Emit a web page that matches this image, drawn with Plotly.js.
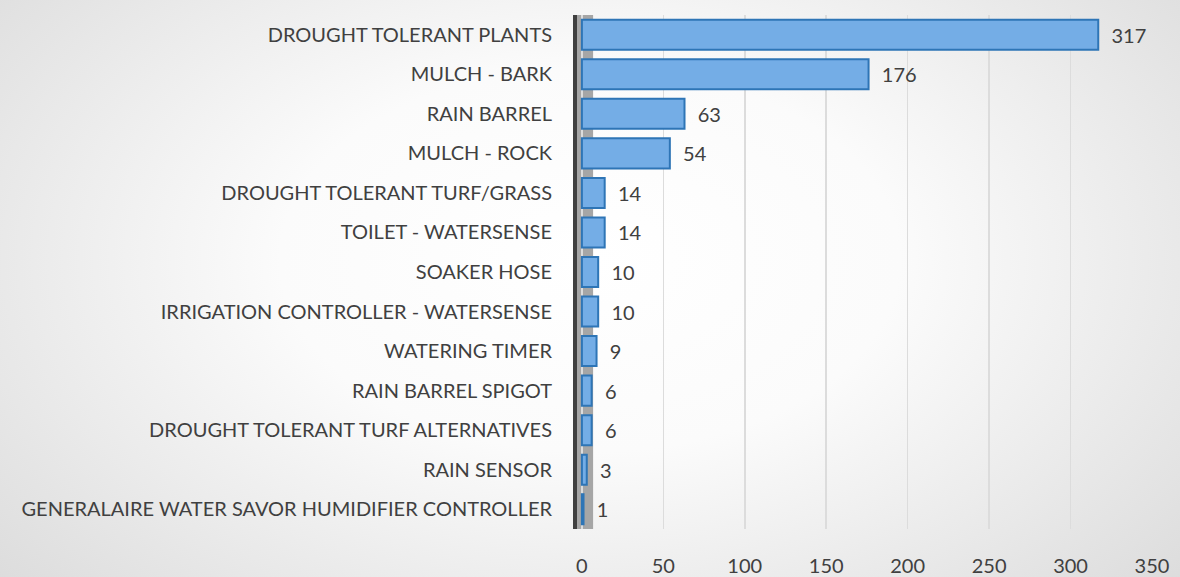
<!DOCTYPE html>
<html>
<head>
<meta charset="utf-8">
<script src="https://cdn.plot.ly/plotly-3.0.1.min.js"></script>
<style>
  html, body { margin: 0; padding: 0; }
  body {
    width: 1180px; height: 577px; overflow: hidden;
    background: radial-gradient(ellipse 75% 95% at 50% 45%, #ffffff 0%, #fbfbfb 35%, #e4e4e4 75%, #d6d6d6 100%);
  }
  #chart { width: 1180px; height: 577px; }
</style>
</head>
<body>
<div id="chart"></div>
<script>
const categories = [
  "DROUGHT TOLERANT PLANTS",
  "MULCH - BARK",
  "RAIN BARREL",
  "MULCH - ROCK",
  "DROUGHT TOLERANT TURF/GRASS",
  "TOILET - WATERSENSE",
  "SOAKER HOSE",
  "IRRIGATION CONTROLLER - WATERSENSE",
  "WATERING TIMER",
  "RAIN BARREL SPIGOT",
  "DROUGHT TOLERANT TURF ALTERNATIVES",
  "RAIN SENSOR",
  "GENERALAIRE WATER SAVOR HUMIDIFIER CONTROLLER"
];
const counts = [317, 176, 63, 54, 14, 14, 10, 10, 9, 6, 6, 3, 1];
const tickValues = [0, 50, 100, 150, 200, 250, 300, 350];

const fontFamily = "Lato, 'Open Sans', 'Liberation Sans', sans-serif";

const trace = {
  type: "bar",
  orientation: "h",
  x: counts,
  y: categories,
  text: counts.map(v => "\u00a0\u00a0" + v),
  textposition: "outside",
  cliponaxis: false,
  textfont: { family: fontFamily, size: 20, color: "#404040" },
  marker: {
    color: "#74ade6",
    line: { color: "#2e75b6", width: 2 }
  },
  width: 0.76,
  hoverinfo: "x+y"
};

const layout = {
  width: 1180,
  height: 577,
  margin: { l: 577, r: 28, t: 15, b: 48 },
  paper_bgcolor: "rgba(0,0,0,0)",
  plot_bgcolor: "rgba(0,0,0,0)",
  showlegend: false,
  font: { family: fontFamily, size: 20, color: "#404040" },
  xaxis: {
    range: [-3, 350],
    tickvals: tickValues,
    ticktext: tickValues.map(String),
    showgrid: true,
    gridcolor: "#dcdcdc",
    gridwidth: 1.5,
    zeroline: false,
    showline: false,
    ticks: "outside",
    ticklen: 19,
    tickcolor: "rgba(0,0,0,0)",
    tickfont: { family: fontFamily, size: 20, color: "#404040" },
    fixedrange: true
  },
  yaxis: {
    type: "category",
    categoryorder: "array",
    categoryarray: categories,
    autorange: "reversed",
    showgrid: false,
    zeroline: false,
    showline: true,
    linecolor: "#404040",
    linewidth: 4,
    ticks: "outside",
    ticklen: 17,
    tickcolor: "rgba(0,0,0,0)",
    tickfont: { family: fontFamily, size: 20, color: "#404040" },
    fixedrange: true
  },
  shapes: [
    {
      type: "rect", xref: "x domain", yref: "y domain", layer: "below",
      x0: 0, x1: 0.028, y0: 0, y1: 1,
      fillcolor: "#a6a6a6", line: { width: 0 }
    }
  ]
};

Plotly.newPlot("chart", [trace], layout, { displayModeBar: false, staticPlot: true });
</script>
</body>
</html>
